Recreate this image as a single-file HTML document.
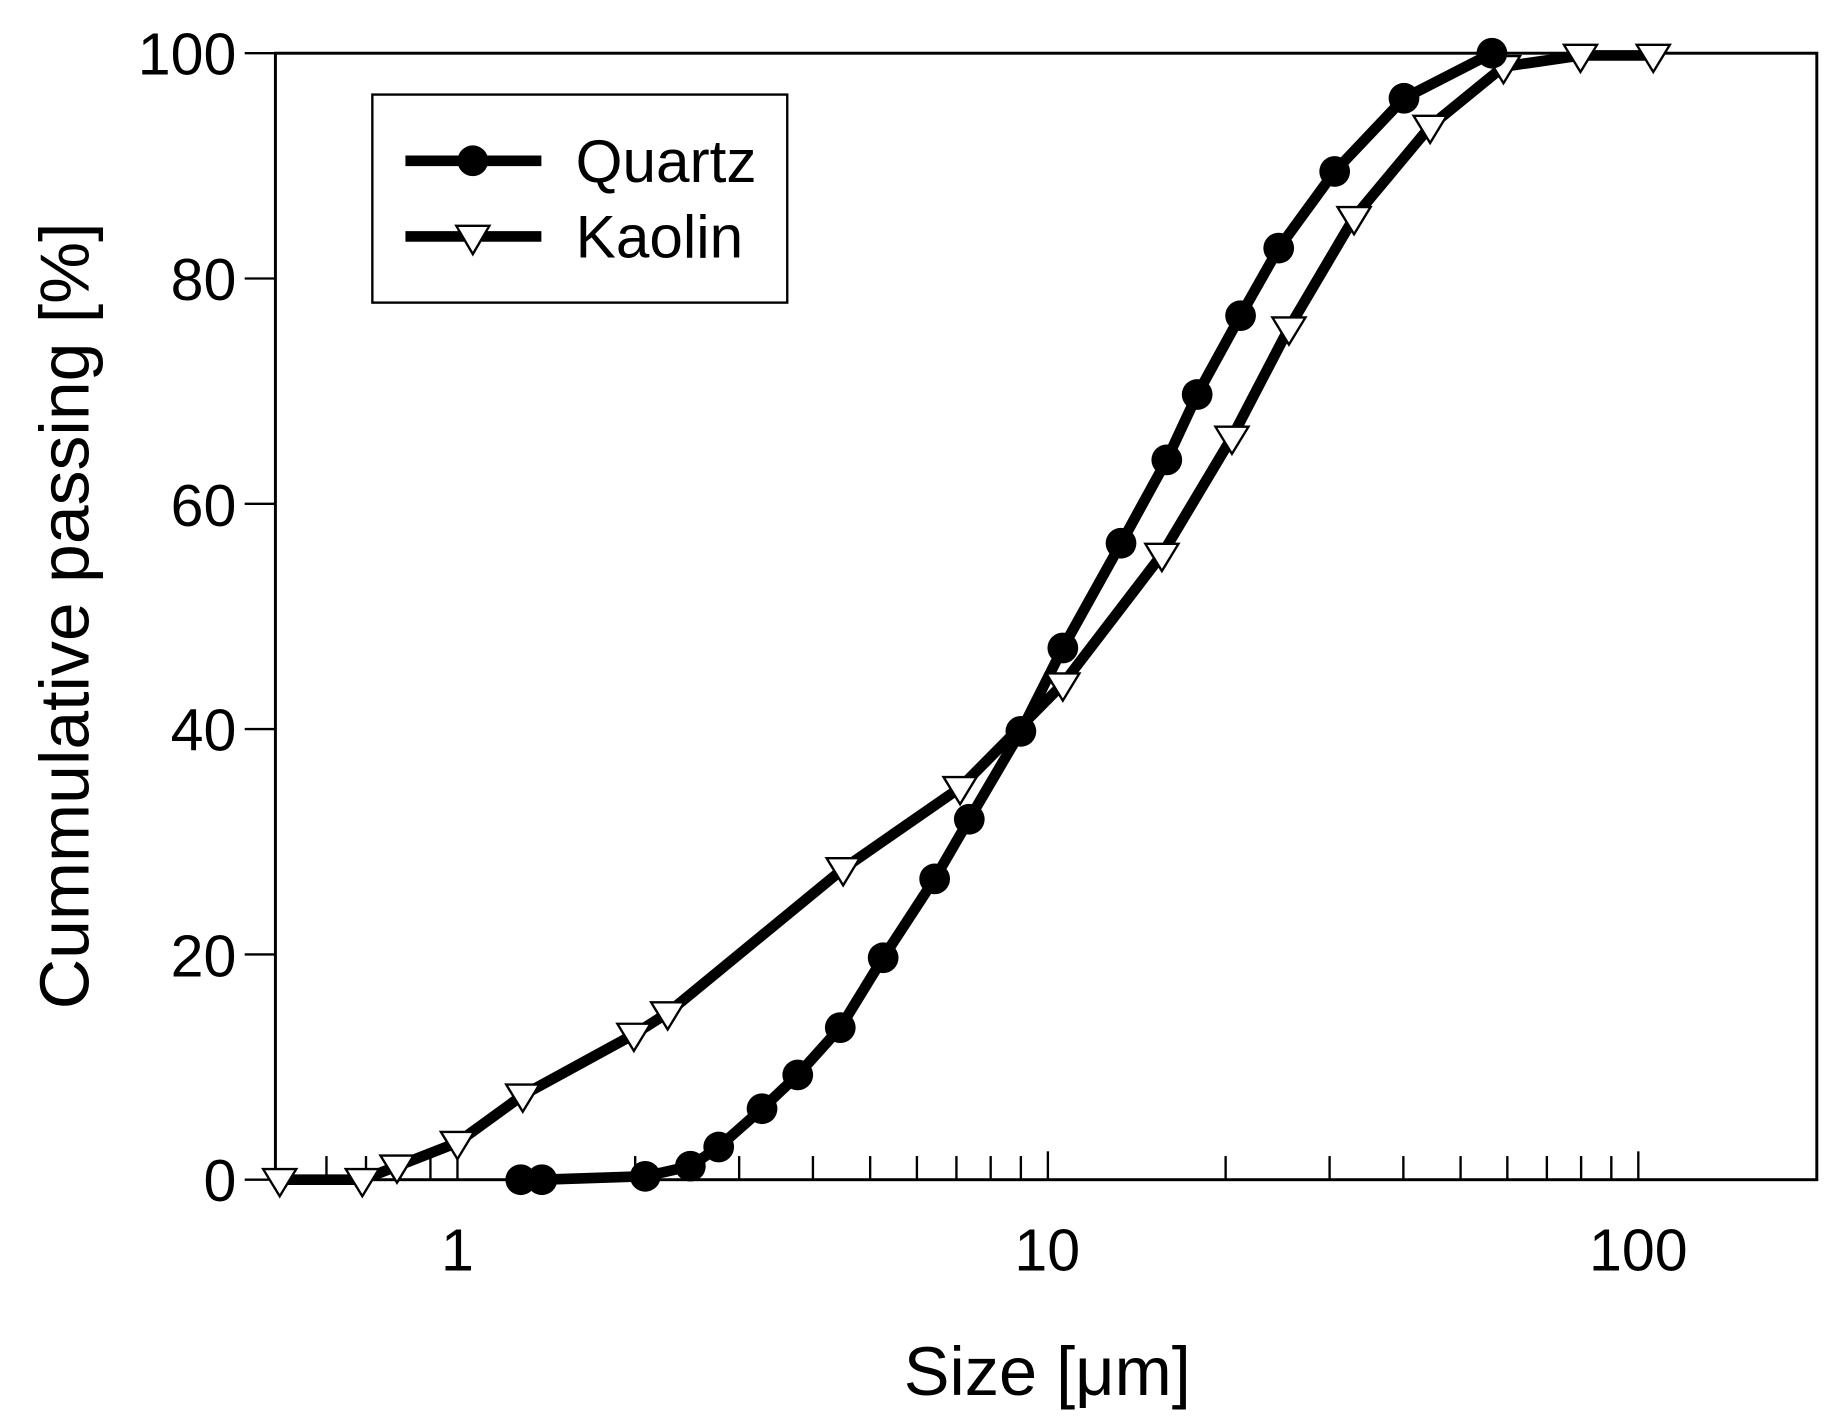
<!DOCTYPE html>
<html><head><meta charset="utf-8"><style>html,body{margin:0;padding:0;background:#fff}svg{display:block}</style></head>
<body>
<svg id="s" width="1844" height="1427" viewBox="0 0 1560 1207.2" xmlns="http://www.w3.org/2000/svg" font-family="Liberation Sans, Arial, sans-serif">
<rect x="0" y="0" width="1560" height="1208" fill="#fff"/>
<g id="ticks" stroke="#000" stroke-width="2"></g>
<rect x="233" y="45" width="1304" height="953" fill="none" stroke="#000" stroke-width="2.5"/>
<g font-size="50" text-anchor="end" fill="#000">
<text x="200" y="1016">0</text><text x="200" y="826">20</text><text x="200" y="635">40</text><text x="200" y="445">60</text><text x="200" y="254">80</text><text x="200" y="63">100</text>
</g>
<g font-size="50" text-anchor="middle" fill="#000">
<text x="387" y="1075">1</text><text x="886" y="1075">10</text><text x="1386" y="1075">100</text>
</g>
<text x="886" y="1180" font-size="58" text-anchor="middle">Size [μm]</text>
<text transform="translate(75,521) rotate(-90)" font-size="59" text-anchor="middle">Cummulative passing [%]</text>
<g id="series"></g>
<rect x="315" y="80" width="351" height="176" fill="#fff" stroke="#000" stroke-width="2"/>
<line x1="343" y1="136" x2="458" y2="136" stroke="#000" stroke-width="9"/>
<circle cx="400" cy="136" r="13" fill="#000"/>
<line x1="343" y1="200" x2="458" y2="200" stroke="#000" stroke-width="9"/>
<polygon points="386,191 414,191 400,215" fill="#fff" stroke="#000" stroke-width="2"/>
<text x="487" y="154" font-size="51">Quartz</text>
<text x="487" y="218" font-size="51">Kaolin</text>
</svg>
<script>
function X(v){return 387+499.5*Math.log10(v);}
function Y(p){return 998-9.53*p;}
var t=document.getElementById('ticks'),h='';
[0.6,0.7,0.8,0.9,2,3,4,5,6,7,8,9,20,30,40,50,60,70,80,90].forEach(function(v){var x=X(v);h+='<line x1="'+x+'" y1="998" x2="'+x+'" y2="978"/>';});
[1,10,100].forEach(function(v){var x=X(v);h+='<line x1="'+x+'" y1="998" x2="'+x+'" y2="974"/>';});
[0,20,40,60,80,100].forEach(function(p){var y=Y(p);h+='<line x1="207" y1="'+y+'" x2="233" y2="'+y+'"/>';});
t.innerHTML=h;
var q=[[1.28,0],[1.39,0],[2.08,0.3],[2.48,1.2],[2.77,2.9],[3.28,6.3],[3.77,9.3],[4.45,13.5],[5.26,19.7],[6.43,26.7],[7.36,32],[9.0,39.8],[10.6,47.2],[13.3,56.5],[15.9,63.9],[17.9,69.7],[21.2,76.7],[24.6,82.7],[30.6,89.5],[40.1,96],[56.5,100]];
var k=[[0.5,0],[0.69,0],[0.79,1.2],[1,3.3],[1.29,7.5],[1.99,12.9],[2.27,14.8],[4.5,27.6],[7.1,34.8],[10.6,44],[15.6,55.5],[20.5,65.9],[25.6,75.6],[33,85.4],[44.4,93.5],[59.1,98.8],[79.8,99.8],[106,99.8]];
var s='';
function pts(a){return a.map(function(d){return X(d[0]).toFixed(1)+','+Y(d[1]).toFixed(1);}).join(' ');}
s+='<polyline points="'+pts(k)+'" fill="none" stroke="#000" stroke-width="9" stroke-linejoin="round"/>';
s+='<polyline points="'+pts(q)+'" fill="none" stroke="#000" stroke-width="9" stroke-linejoin="round"/>';
k.forEach(function(d){var x=X(d[0]),y=Y(d[1]);s+='<polygon points="'+(x-14)+','+(y-9)+' '+(x+14)+','+(y-9)+' '+x+','+(y+14)+'" fill="#fff" stroke="#000" stroke-width="2"/>';});
q.forEach(function(d){s+='<circle cx="'+X(d[0])+'" cy="'+Y(d[1])+'" r="13" fill="#000"/>';});
document.getElementById('series').innerHTML=s;
</script>
</body></html>
